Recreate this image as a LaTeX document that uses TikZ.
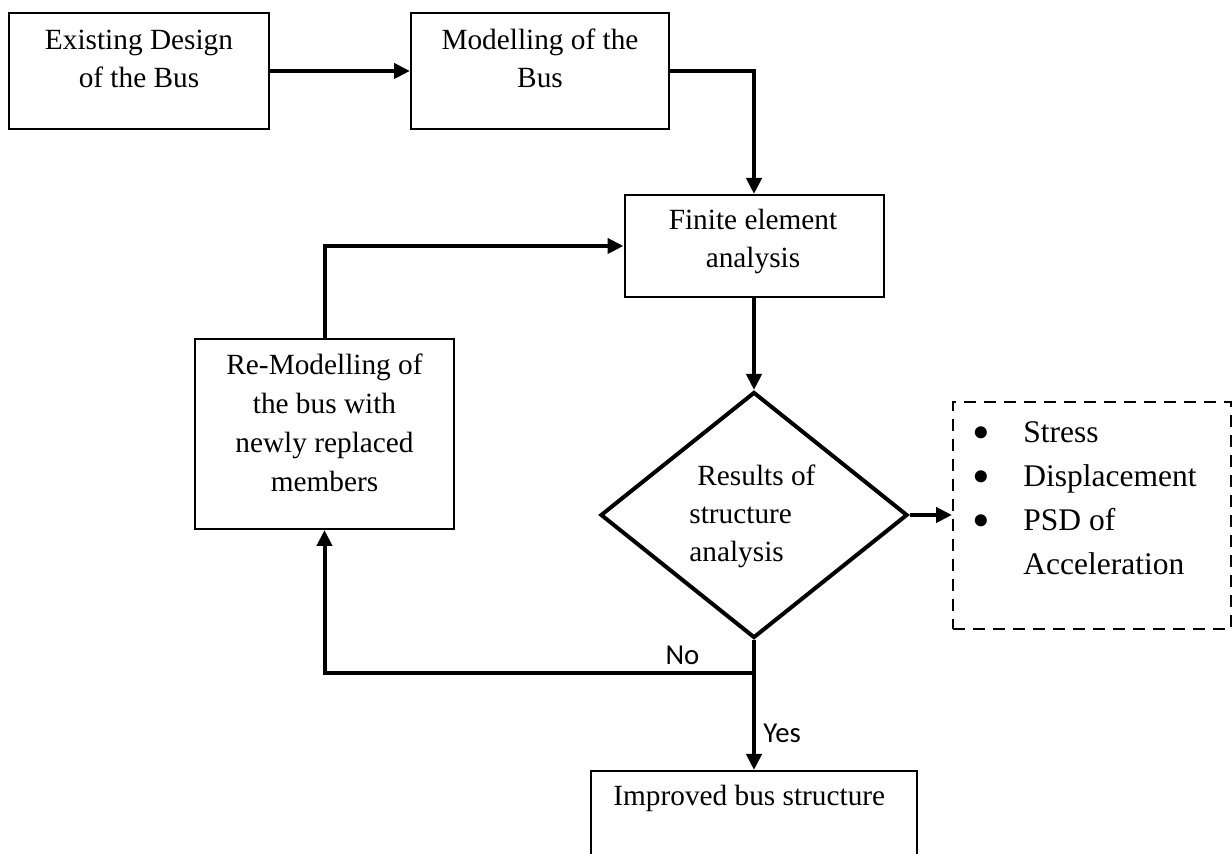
\documentclass[tikz,border=0pt]{standalone}
\usepackage{graphicx}
\usepackage{fontspec}
\setmainfont{Liberation Serif}
\newfontfamily\calibfont{Carlito}
\usetikzlibrary{arrows.meta,shapes.geometric}
\newcommand\mlc[1]{\begin{tabular}[t]{@{}c@{}}#1\end{tabular}}
\newcommand\bigbul{\makebox[5.5pt][c]{\smash{\raisebox{-3.4pt}{\scalebox{1.6}{\textbullet}}}}}
\begin{document}
\begin{tikzpicture}[x=0.5pt,y=-0.5pt,
  box/.style={draw, line width=1pt, inner sep=0pt, rectangle},
  txt/.style={inner sep=0pt, font=\fontsize{14.65}{19}\selectfont},
  lbl/.style={inner sep=0pt, font=\calibfont\fontsize{14.4}{16}\selectfont},
  conn/.style={line width=2pt, -{Triangle[length=8pt,width=7.5pt]}}]
\clip (0,0) rectangle (1232,854);
\fill[white] (0,0) rectangle (1232,854);
% boxes
\node[box, minimum width=130pt, minimum height=58pt] (b1) at (139,71) {};
\node[txt, anchor=base] (t1) at (139,50) {\mlc{Existing Design\\of the Bus}};
\node[box, minimum width=129pt, minimum height=58pt] (b2) at (540,71) {};
\node[txt, anchor=base] (t2) at (540,50) {\mlc{Modelling of the\\Bus}};
\node[box, minimum width=129.5pt, minimum height=51pt] (fea) at (754,246) {};
\node[txt, anchor=base] (t3) at (753,230) {\mlc{Finite element\\analysis}};
\node[box, minimum width=129.5pt, minimum height=95pt] (rm) at (324.5,434) {};
\node[txt, anchor=base, font=\fontsize{14.65}{19.5}\selectfont] (t4) at (324.5,375)
  {\mlc{Re-Modelling of\\the bus with\\newly replaced\\members}};
\node[diamond, draw, line width=2pt, minimum width=153.5pt, minimum height=123pt, inner sep=0pt] (dia) at (754,515) {};
\node[txt, anchor=base west] (t5) at (689,486)
  {\begin{tabular}[t]{@{}l@{}}\hspace*{4pt}Results of\\structure\\analysis\end{tabular}};
\node[draw, line width=1pt, dash pattern=on 6pt off 4pt, minimum width=139pt, minimum height=113.5pt, inner sep=0pt] (res) at (1092,515.5) {};
\node[inner sep=0pt, anchor=base west, font=\fontsize{15.75}{22}\selectfont] (t6) at (975.5,443)
  {\begin{tabular}[t]{@{}l@{\hspace{18.25pt}}l@{}}\bigbul&Stress\\ \bigbul&Displacement\\ \bigbul&PSD of\\ &Acceleration\end{tabular}};
\node[box, minimum width=163pt, minimum height=60pt, anchor=north] (imp) at (754,770) {};
\node[txt, anchor=base west] (t7) at (613,806) {Improved bus structure};
% connectors
\coordinate (split) at (754,673);
\draw[conn] (b1.east) -- (b2.west);
\draw[conn] (b2.east) -| (fea.north);
\draw[conn] (rm.north) |- (fea.west);
\draw[conn] (fea.south) -- (dia.north);
\draw[conn] (dia.east) -- (dia.east -| res.west);
\draw[conn] (dia.south) -- (imp.north);
\draw[conn] (split) -| (rm.south);
\node[lbl, anchor=base] (no) at (682.5,665) {No};
\node[lbl, anchor=base west] (yes) at (763,743) {Yes};
\end{tikzpicture}
\end{document}
